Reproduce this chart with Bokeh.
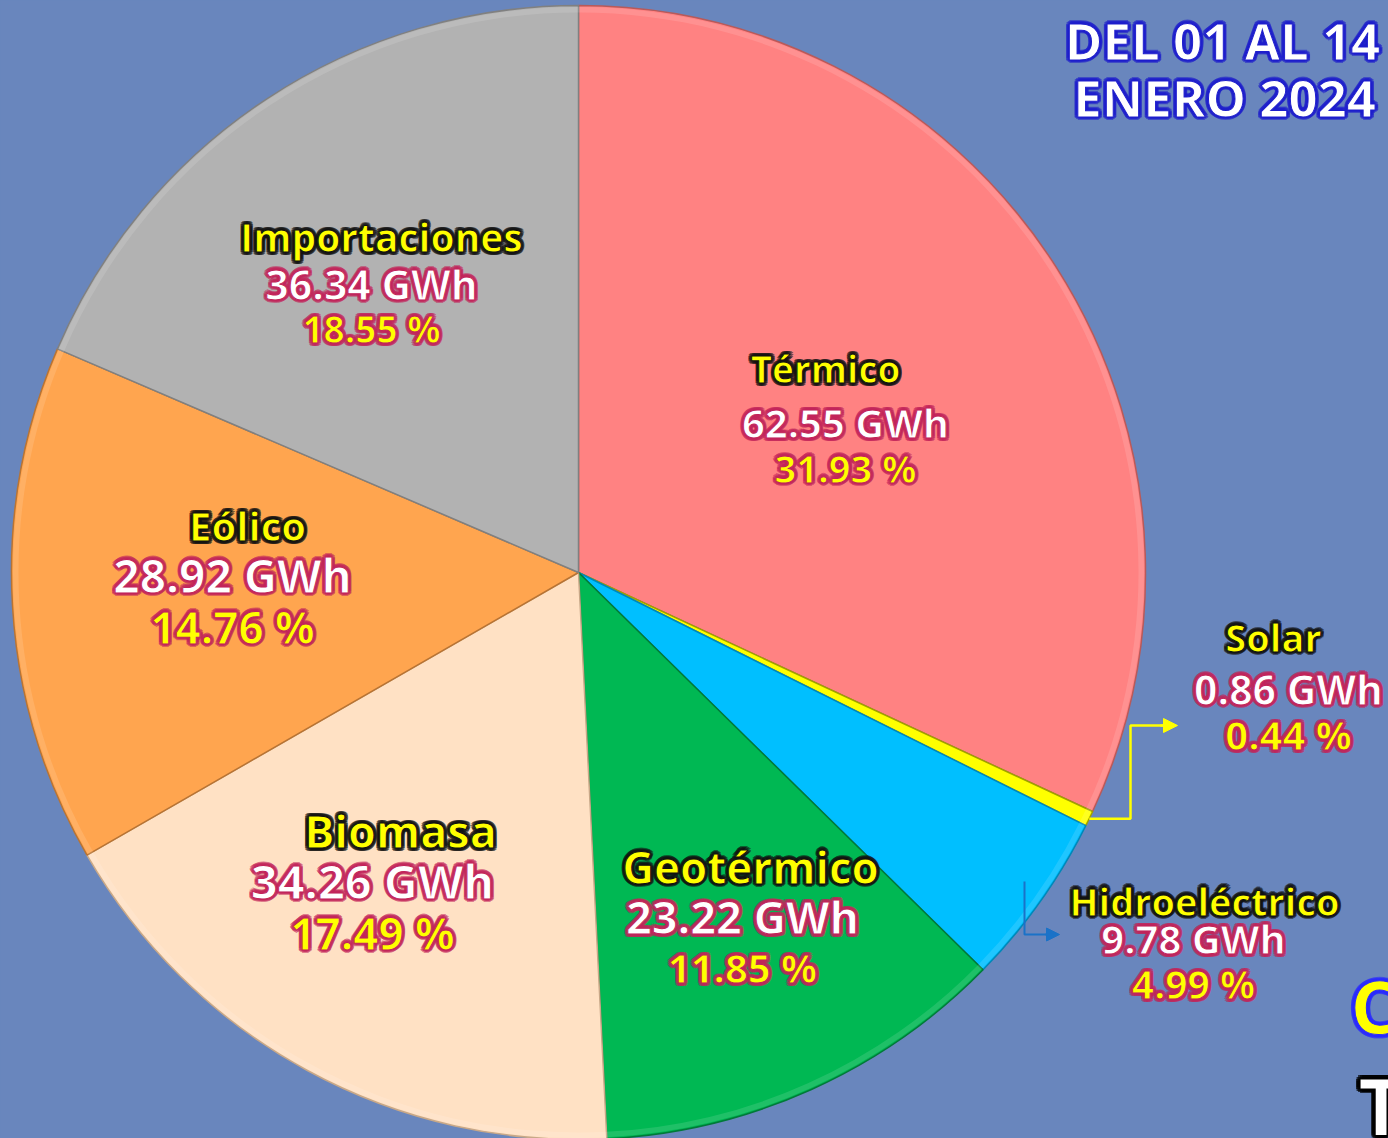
import math
from bokeh.plotting import figure
from bokeh.models import Range1d, ColumnDataSource, Arrow, NormalHead
from bokeh.core.properties import value
from bokeh.embed import file_html
from bokeh.resources import INLINE

# ---------------- data ----------------
categories = ["Térmico", "Solar", "Hidroeléctrico", "Geotérmico", "Biomasa", "Eólico", "Importaciones"]
energy_gwh = [62.55, 0.86, 9.78, 23.22, 34.26, 28.92, 36.34]
share_pct = [31.93, 0.44, 4.99, 11.85, 17.49, 14.76, 18.55]
title_lines = ["DEL 01 AL 14", "ENERO 2024"]

# ---------------- styles ----------------
slice_colors = ["#FF8282", "#FFFF00", "#00BFFF", "#00B853", "#FFE1C4", "#FFA54F", "#B2B2B2"]
edge_colors = ["#B85A5A", "#A0A000", "#0088B8", "#007A38", "#C8A888", "#B87434", "#808080"]
BG = "#6986BD"
W, H = 1388, 1138
FONT = value("Open Sans")

def sx(X):  # screenshot px -> data x
    return X

def sy(Y):  # screenshot px -> data y
    return H - Y

CX, CY, R = sx(578), sy(572), 567

# label layout (screen coords): name, value, percent centers + font sizes
label_layout = {
    "Térmico":        [(825, 368, 37), (845, 422, 40), (845, 467, 38)],
    "Solar":          [(1273, 636, 38), (1288, 688, 41), (1288, 734, 40)],
    "Hidroeléctrico": [(1204, 900, 38), (1193, 938, 40), (1193, 983, 39)],
    "Geotérmico":     [(750, 866, 44), (742, 916, 45), (742, 967, 40)],
    "Biomasa":        [(400, 830, 45), (372, 880, 47), (372, 932, 44)],
    "Eólico":         [(247, 525, 40), (232, 574, 46), (232, 626, 44)],
    "Importaciones":  [(381, 236, 39), (371, 283, 41), (371, 328, 37)],
}

p = figure(width=W, height=H, x_range=Range1d(0, W), y_range=Range1d(0, H),
           output_backend="svg", toolbar_location=None, min_border=0)
p.axis.visible = False
p.grid.visible = False
p.outline_line_color = None
p.background_fill_color = BG
p.border_fill_color = BG

# ---------------- pie ----------------
total = sum(share_pct)
starts, ends = [], []
cum = 0.0
for s in share_pct:
    starts.append(math.pi / 2 - 2 * math.pi * cum / total)
    cum += s
    ends.append(math.pi / 2 - 2 * math.pi * cum / total)

pie_src = ColumnDataSource(dict(cat=categories, start=starts, end=ends,
                                fill=slice_colors, edge=edge_colors))
p.wedge(x=CX, y=CY, radius=R, start_angle="start", end_angle="end", direction="clock",
        fill_color="fill", line_color="edge", line_width=1.5, source=pie_src)
# subtle bevel highlight near the rim
p.annular_wedge(x=CX, y=CY, inner_radius=R - 7, outer_radius=R - 1.5, start_angle="start",
                end_angle="end", direction="clock", fill_color="#FFFFFF", fill_alpha=0.12,
                line_color=None, source=pie_src)

# ---------------- connectors ----------------
sol_mid = (starts[1] + ends[1]) / 2
sol_x0 = CX + R * math.cos(sol_mid)
sol_y0 = CY + R * math.sin(sol_mid)
p.line([sol_x0, sx(1130), sx(1130), sx(1165)], [sol_y0, sol_y0, sy(725), sy(725)],
       line_color="#FFFF00", line_width=2.5)
p.add_layout(Arrow(end=NormalHead(size=14, fill_color="#FFFF00", line_color="#FFFF00"),
                   x_start=sx(1160), y_start=sy(725), x_end=sx(1177), y_end=sy(725),
                   line_color="#FFFF00", line_width=2.5))
p.line([sx(1024), sx(1024), sx(1050)], [sy(881), sy(934), sy(934)],
       line_color="#1A72C8", line_width=2)
p.add_layout(Arrow(end=NormalHead(size=13, fill_color="#1A72C8", line_color="#1A72C8"),
                   x_start=sx(1045), y_start=sy(934), x_end=sx(1059), y_end=sy(934),
                   line_color="#1A72C8", line_width=2))

# ---------------- labels ----------------
xs, ys, txt, sizes, cols, outs = [], [], [], [], [], []
for cat, g, pc in zip(categories, energy_gwh, share_pct):
    (nx, ny, ns), (vx, vy, vs), (px_, py_, ps) = label_layout[cat]
    for (X, Y, S), t, c, o in [((nx, ny, ns), cat, "#FFFF00", "#111111"),
                               ((vx, vy, vs), f"{g:.2f} GWh", "#FFFFFF", "#C2245A"),
                               ((px_, py_, ps), f"{pc:.2f} %", "#FFFF00", "#C2245A")]:
        xs.append(sx(X)); ys.append(sy(Y)); txt.append(t)
        sizes.append(f"{S}px"); cols.append(c); outs.append(o)

for X, Y, t in [(1222, 39, title_lines[0]), (1224, 96, title_lines[1])]:
    xs.append(sx(X)); ys.append(sy(Y)); txt.append(t)
    sizes.append("51px"); cols.append("#FFFFFF"); outs.append("#1E1ECC")

lab_src = ColumnDataSource(dict(x=xs, y=ys, text=txt, size=sizes, color=cols, outline=outs))

# glow: outline-coloured copies around each label
for k in range(12):
    a = 2 * math.pi * k / 12
    p.text(x="x", y="y", text="text", source=lab_src, text_font=FONT, text_font_style="bold",
           text_font_size="size", text_color="outline", text_alpha=0.55,
           x_offset=3.2 * math.cos(a), y_offset=3.2 * math.sin(a),
           text_align="center", text_baseline="middle")
p.text(x="x", y="y", text="text", source=lab_src, text_font=FONT, text_font_style="bold",
       text_font_size="size", text_color="color", text_outline_color="outline",
       text_align="center", text_baseline="middle")

# partially visible texts at the right edge
for k in range(12):
    a = 2 * math.pi * k / 12
    p.text(x=[sx(1350)], y=[sy(1005)], text=["C"], text_font=FONT, text_font_style="bold",
           text_font_size="74px", text_color="#2A2AFF", text_alpha=0.6,
           x_offset=4 * math.cos(a), y_offset=4 * math.sin(a),
           text_align="left", text_baseline="middle")
    p.text(x=[sx(1358)], y=[sy(1105)], text=["T"], text_font=FONT, text_font_style="bold",
           text_font_size="78px", text_color="#000000", text_alpha=0.7,
           x_offset=4 * math.cos(a), y_offset=4 * math.sin(a),
           text_align="left", text_baseline="middle")
p.text(x=[sx(1350)], y=[sy(1005)], text=["C"], text_font=FONT, text_font_style="bold",
       text_font_size="74px", text_color="#FFFF00", text_outline_color="#2A2AFF",
       text_align="left", text_baseline="middle")
p.text(x=[sx(1358)], y=[sy(1105)], text=["T"], text_font=FONT, text_font_style="bold",
       text_font_size="78px", text_color="#FFFFFF", text_outline_color="#000000",
       text_align="left", text_baseline="middle")

html = file_html(p, INLINE)
html = html.replace("<head>", "<head><style>body{background:%s;}</style>" % BG, 1)
open("out.html", "w").write(html)
